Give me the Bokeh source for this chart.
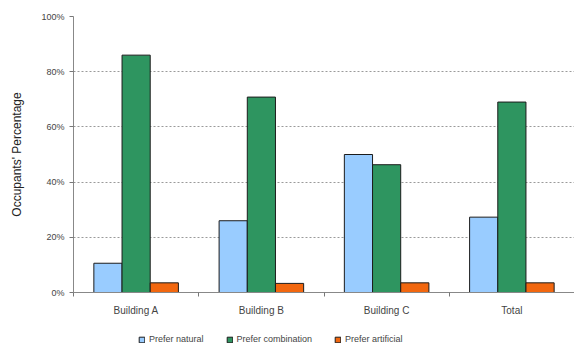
from bokeh.plotting import figure
from bokeh.layouts import column
from bokeh.models import (ColumnDataSource, FixedTicker, PrintfTickFormatter,
                          Legend, LegendItem, Range1d)
from bokeh.embed import file_html
from bokeh.resources import INLINE

# Survey results per building (percent of occupants)
categories = ["Building A", "Building B", "Building C", "Total"]
prefer_natural = [10.6, 26.0, 50.0, 27.3]
prefer_combination = [86.0, 70.8, 46.3, 69.0]
prefer_artificial = [3.5, 3.3, 3.5, 3.5]
y_ticks = [0, 20, 40, 60, 80, 100]

series = [
    ("Prefer natural", prefer_natural, "#99ccff", -0.225),
    ("Prefer combination", prefer_combination, "#2e9560", 0.0),
    ("Prefer artificial", prefer_artificial, "#f2670f", 0.225),
]

FONT = "Liberation Sans"
BAR_EDGE = "#1c1c1c"

p = figure(width=574, height=322, output_backend="svg", toolbar_location=None,
           x_range=Range1d(0, len(categories)), y_range=Range1d(0, 100),
           min_border_left=73, min_border_right=0, min_border_top=16,
           min_border_bottom=30)
p.outline_line_color = None
p.background_fill_color = "white"

centers = [i + 0.5 for i in range(len(categories))]
sources = []
for name, vals, color, offset in series:
    src = ColumnDataSource(dict(x=[c + offset for c in centers], top=vals))
    sources.append(src)
    p.vbar(x="x", top="top", width=0.225, bottom=0, source=src,
           fill_color=color, line_color=BAR_EDGE, line_width=1)

# x axis: category labels at group centres, small ticks at group boundaries
p.xaxis.ticker = FixedTicker(ticks=centers,
                             minor_ticks=list(range(len(categories) + 1)))
p.xaxis.major_label_overrides = {c: lab for c, lab in zip(centers, categories)}
p.xaxis.major_tick_line_color = None
p.xaxis.major_tick_out = 4
p.xaxis.minor_tick_line_color = "#777777"
p.xaxis.minor_tick_out = 4
p.xaxis.minor_tick_in = 0
p.xaxis.axis_line_color = "#888888"
p.xaxis.major_label_text_font = FONT
p.xaxis.major_label_text_font_size = "10px"
p.xaxis.major_label_text_color = "#444444"
p.xaxis.major_label_standoff = 8

# y axis
p.yaxis.ticker = FixedTicker(ticks=y_ticks)
p.yaxis.formatter = PrintfTickFormatter(format="%d%%")
p.yaxis.axis_label = "Occupants' Percentage"
p.yaxis.axis_label_text_font = FONT
p.yaxis.axis_label_text_font_style = "normal"
p.yaxis.axis_label_text_font_size = "12px"
p.yaxis.axis_label_text_color = "#222222"
p.yaxis.axis_label_standoff = 14
p.yaxis.major_label_text_font = FONT
p.yaxis.major_label_text_font_size = "9px"
p.yaxis.major_label_text_color = "#444444"
p.yaxis.axis_line_color = "#888888"
p.yaxis.major_tick_line_color = "#777777"
p.yaxis.major_tick_out = 4
p.yaxis.major_tick_in = 0
p.yaxis.minor_tick_line_color = None

p.xgrid.grid_line_color = None
p.ygrid.grid_line_color = "#9a9a9a"
p.ygrid.grid_line_dash = "2 2"
p.ygrid.grid_line_width = 1

# legend strip underneath the chart; its renderers are zero-size rects kept
# well outside the visible ranges, so only the legend swatches show
lg = figure(width=574, height=24, output_backend="svg", toolbar_location=None,
            x_range=Range1d(-100, -99), y_range=Range1d(-2, -1),
            min_border_left=73, min_border_right=0,
            min_border_top=0, min_border_bottom=0)
lg.axis.visible = False
lg.grid.visible = False
lg.outline_line_color = None

items = []
for (name, vals, color, offset), src in zip(series, sources):
    r = lg.vbar(x="x", top="top", bottom="top", width=0, source=src,
                fill_color=color, line_color=BAR_EDGE, line_width=1)
    items.append(LegendItem(label=name, renderers=[r]))

legend = Legend(items=items, orientation="horizontal", location=(65, 2),
                label_text_font=FONT, label_text_font_size="9px",
                label_text_color="#444444", glyph_width=7, glyph_height=7,
                label_standoff=4, spacing=22, padding=2, margin=0,
                label_height=9, border_line_color=None,
                background_fill_alpha=0)
lg.add_layout(legend)

page = column(p, lg, spacing=0)
open("out.html", "w").write(file_html(page, INLINE))
